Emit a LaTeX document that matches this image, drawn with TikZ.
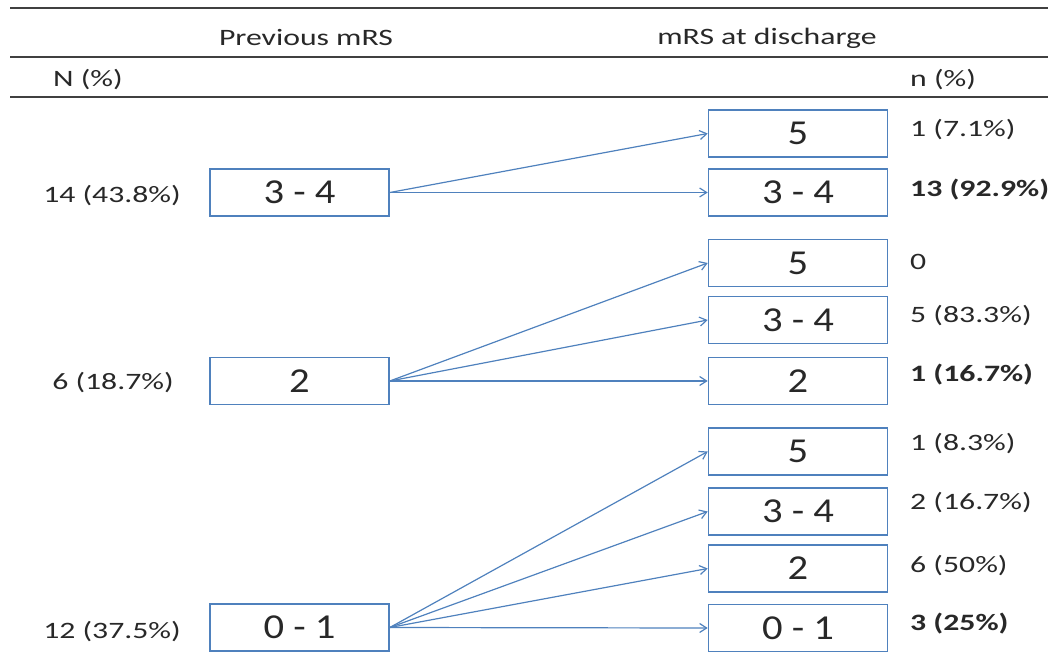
\documentclass[tikz,border=0pt]{standalone}
\usepackage{fontspec}
\setmainfont{Carlito}[FakeStretch=1.35]
\newfontfamily\boxfont{Carlito}[FakeStretch=1.16]
\usetikzlibrary{arrows.meta}
\definecolor{mrsblue}{RGB}{79,129,189}
\definecolor{inkgray}{RGB}{40,40,40}

\begin{document}
\begin{tikzpicture}[x=1pt, y=-1pt,
    mrsbox/.style={draw=mrsblue, line width=1.6pt, fill=white, minimum width=179pt,
      minimum height=47pt, inner sep=0pt, text=inkgray, font=\boxfont\fontsize{35}{35}\selectfont},
    cnt/.style={inner sep=0pt, text=inkgray, font=\fontsize{23.5}{24}\selectfont},
    flow/.style={draw=mrsblue, line width=1.2pt, -{Straight Barb[length=7pt, width=9pt]}},
    rulebar/.style={line width=1.8pt, draw=black!75}]
  \useasboundingbox (0,0) rectangle (1048,660);

  % table rules
  \draw[rulebar] (10,8) -- (1048,8);
  \draw[rulebar] (10,57) -- (1048,57);
  \draw[rulebar] (10,97) -- (1048,97);

  % headers
  \node[cnt] (hprev) at (306,38) {Previous mRS};
  \node[cnt] (hdis) at (767,38) {mRS at discharge};
  \node[cnt, anchor=west] (hN) at (53,80) {N (\%)};
  \node[cnt, anchor=west] (hn) at (910,80) {n (\%)};

  % previous mRS
  \node[mrsbox] (p34) at (299.5,192.5) {3 - 4};
  \node[mrsbox] (p2) at (299.5,381) {2};
  \node[mrsbox] (p01) at (299.5,627.5) {0 - 1};
  \node[cnt] (np34) at (112,196) {14 (43.8\%)};
  \node[cnt] (np2) at (113,383) {6 (18.7\%)};
  \node[cnt] (np01) at (112,632) {12 (37.5\%)};

  % mRS at discharge
  \foreach \nm/\yy/\txt in {a5/133.5/5, a34/192.5/3 - 4, b5/263/5, b34/320/3 - 4, b2/381/2,
      c5/451.5/5, c34/511.5/3 - 4, c2/568.5/2, c01/628/0 - 1}
    \node[mrsbox] (\nm) at (798,\yy) {\txt};

  \node[cnt, anchor=west] (na5) at (910,130) {1 (7.1\%)};
  \node[cnt, anchor=west] (na34) at (910,190) {\bfseries 13 (92.9\%)};
  \node[cnt, anchor=west] (nb5) at (910,262) {0};
  \node[cnt, anchor=west] (nb34) at (910,316) {5 (83.3\%)};
  \node[cnt, anchor=west] (nb2) at (910,375) {\bfseries 1 (16.7\%)};
  \node[cnt, anchor=west] (nc5) at (910,444) {1 (8.3\%)};
  \node[cnt, anchor=west] (nc34) at (910,503) {2 (16.7\%)};
  \node[cnt, anchor=west] (nc2) at (910,566) {6 (50\%)};
  \node[cnt, anchor=west] (nc01) at (910,624) {\bfseries 3 (25\%)};

  % transitions
  \foreach \tgt in {a5,a34}
    \draw[flow] (p34.east) -- (\tgt.west);
  \foreach \tgt in {b5,b34,b2}
    \draw[flow] (p2.east) -- (\tgt.west);
  \foreach \tgt in {c5,c34,c2,c01}
    \draw[flow] (p01.east) -- (\tgt.west);
\end{tikzpicture}
\end{document}
